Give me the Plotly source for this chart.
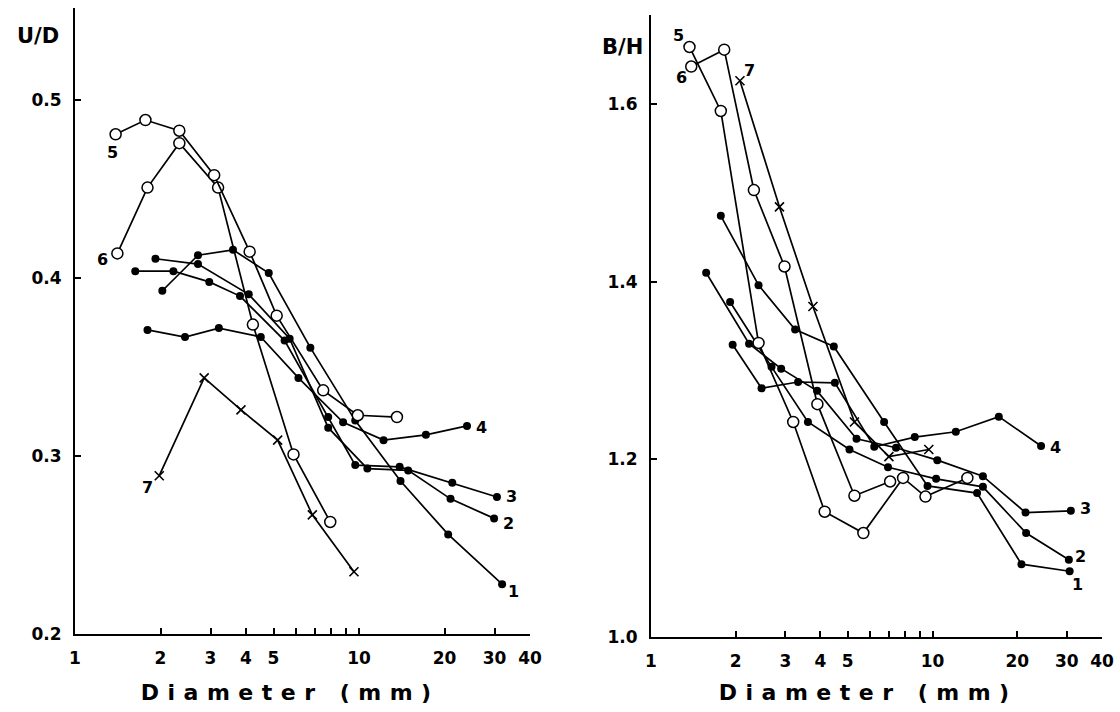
import math
import plotly.graph_objects as go

# ---------------- data: left panel (U/D) ----------------
ud1_x = [2.03, 2.71, 3.6, 4.81, 6.74, 9.7, 14.0, 20.6, 31.9]
ud1_y = [0.393, 0.413, 0.416, 0.403, 0.361, 0.320, 0.286, 0.256, 0.228]
ud2_x = [1.92, 2.71, 4.09, 5.7, 7.79, 10.7, 14.9, 21.0, 29.9]
ud2_y = [0.411, 0.408, 0.391, 0.366, 0.316, 0.293, 0.292, 0.276, 0.265]
ud3_x = [1.63, 2.22, 2.97, 3.81, 5.47, 7.79, 9.7, 13.9, 21.3, 30.6]
ud3_y = [0.404, 0.404, 0.398, 0.390, 0.365, 0.322, 0.295, 0.294, 0.285, 0.277]
ud4_x = [1.80, 2.44, 3.21, 4.51, 6.12, 8.79, 12.2, 17.2, 24.0]
ud4_y = [0.371, 0.367, 0.372, 0.367, 0.344, 0.319, 0.309, 0.312, 0.317]
ud5_x = [1.39, 1.77, 2.33, 3.09, 4.12, 5.13, 7.48, 9.9, 13.6]
ud5_y = [0.481, 0.489, 0.483, 0.458, 0.415, 0.379, 0.337, 0.323, 0.322]
ud6_x = [1.41, 1.80, 2.33, 3.19, 4.23, 5.88, 7.92]
ud6_y = [0.414, 0.451, 0.476, 0.451, 0.374, 0.301, 0.263]
ud7_x = [1.98, 2.85, 3.84, 5.17, 6.85, 9.6]
ud7_y = [0.289, 0.344, 0.326, 0.309, 0.267, 0.235]

# ---------------- data: right panel (B/H) ----------------
bh1_x = [1.77, 2.41, 3.25, 4.46, 6.73, 9.6, 14.4, 20.7, 30.7]
bh1_y = [1.474, 1.396, 1.346, 1.327, 1.242, 1.170, 1.162, 1.082, 1.074]
bh2_x = [1.91, 2.68, 3.61, 5.07, 6.95, 10.3, 15.1, 21.5, 30.5]
bh2_y = [1.377, 1.304, 1.242, 1.211, 1.191, 1.178, 1.169, 1.117, 1.087]
bh3_x = [1.57, 2.23, 2.9, 3.89, 5.37, 7.42, 10.4, 15.1, 21.4, 31.0]
bh3_y = [1.410, 1.330, 1.302, 1.277, 1.223, 1.213, 1.199, 1.181, 1.140, 1.142]
bh4_x = [1.95, 2.47, 3.33, 4.5, 6.21, 8.65, 12.1, 17.2, 24.3]
bh4_y = [1.329, 1.280, 1.287, 1.286, 1.214, 1.225, 1.231, 1.248, 1.215]
bh5_x = [1.37, 1.77, 2.41, 3.2, 4.14, 5.68, 7.86, 9.44, 13.3]
bh5_y = [1.664, 1.592, 1.331, 1.242, 1.141, 1.117, 1.179, 1.158, 1.179]
bh6_x = [1.39, 1.82, 2.32, 2.98, 3.9, 5.28, 7.07]
bh6_y = [1.642, 1.661, 1.503, 1.417, 1.262, 1.159, 1.175]
bh7_x = [2.07, 2.86, 3.76, 5.28, 7.0, 9.7]
bh7_y = [1.626, 1.484, 1.372, 1.242, 1.203, 1.211]

x_tickvals = [1, 2, 3, 4, 5, 6, 7, 8, 9, 10, 20, 30, 40]
x_ticktext = ["1", "2", "3", "4", "5", "", "", "", "", "10", "20", "30", "40"]
ud_ticks = [0.2, 0.3, 0.4, 0.5]
ud_ticktext = ["0.2", "0.3", "0.4", "0.5"]
bh_ticks = [1.0, 1.2, 1.4, 1.6]
bh_ticktext = ["1.0", "1.2", "1.4", "1.6"]

FONT = "DejaVu Sans"
W, H = 1120, 712

fig = go.Figure()

filled = dict(symbol="circle", size=8, color="black")
opencirc = dict(symbol="circle", size=11, color="white", line=dict(color="black", width=1.5))
cross = dict(symbol="x-thin", size=9, color="black", line=dict(color="black", width=1.6))
line = dict(color="black", width=1.7)


def add(xs, ys, marker, xa, ya):
    fig.add_trace(go.Scatter(x=xs, y=ys, mode="lines+markers", marker=marker, line=line,
                             xaxis=xa, yaxis=ya, hoverinfo="skip"))


for xs, ys in [(ud1_x, ud1_y), (ud2_x, ud2_y), (ud3_x, ud3_y), (ud4_x, ud4_y)]:
    add(xs, ys, filled, "x", "y")
add(ud7_x, ud7_y, cross, "x", "y")
add(ud6_x, ud6_y, opencirc, "x", "y")
add(ud5_x, ud5_y, opencirc, "x", "y")

for xs, ys in [(bh1_x, bh1_y), (bh2_x, bh2_y), (bh3_x, bh3_y), (bh4_x, bh4_y)]:
    add(xs, ys, filled, "x2", "y2")
add(bh7_x, bh7_y, cross, "x2", "y2")
add(bh6_x, bh6_y, opencirc, "x2", "y2")
add(bh5_x, bh5_y, opencirc, "x2", "y2")

tickfont = dict(family=FONT, size=17, color="black", weight="bold")


def xaxis(dom, anchor):
    return dict(type="log", range=[0, math.log10(40)], domain=dom, anchor=anchor,
                showline=True, linecolor="black", linewidth=2, ticks="inside", ticklen=6,
                tickwidth=2, tickcolor="black", tickvals=x_tickvals, ticktext=x_ticktext,
                tickfont=tickfont, showgrid=False, zeroline=False, ticklabelstandoff=8,
                automargin=False)


def yaxis(rng, dom, anchor, tv, tt):
    return dict(range=rng, domain=dom, anchor=anchor, showline=True, linecolor="black",
                linewidth=2, ticks="inside", ticklen=6, tickwidth=2, tickcolor="black",
                tickvals=tv, ticktext=tt, tickfont=tickfont, showgrid=False,
                zeroline=False, ticklabelstandoff=8, automargin=False)


fig.update_layout(
    width=W, height=H, margin=dict(l=0, r=0, t=0, b=0, pad=0, autoexpand=False),
    paper_bgcolor="white", plot_bgcolor="white", showlegend=False,
    xaxis=xaxis([75 / W, 530 / W], "y"),
    yaxis=yaxis([0.2, 0.552], [(H - 634) / H, (H - 8) / H], "x", ud_ticks, ud_ticktext),
    xaxis2=xaxis([651 / W, 1102 / W], "y2"),
    yaxis2=yaxis([1.0, 1.70], [(H - 637) / H, (H - 15) / H], "x2", bh_ticks, bh_ticktext),
)

lab = dict(family=FONT, size=16, color="black", weight="bold")


def label(text, xs, ys, idx, xa, ya, dx, dy):
    fig.add_annotation(text=text, x=math.log10(xs[idx]), y=ys[idx], xref=xa, yref=ya,
                       xshift=dx, yshift=dy, showarrow=False, font=lab,
                       xanchor="center", yanchor="middle")


label("5", ud5_x, ud5_y, 0, "x", "y", -3, -18)
label("6", ud6_x, ud6_y, 0, "x", "y", -15, -6)
label("7", ud7_x, ud7_y, 0, "x", "y", -12, -12)
label("4", ud4_x, ud4_y, -1, "x", "y", 15, -2)
label("3", ud3_x, ud3_y, -1, "x", "y", 15, 1)
label("2", ud2_x, ud2_y, -1, "x", "y", 14, -5)
label("1", ud1_x, ud1_y, -1, "x", "y", 11, -7)

label("5", bh5_x, bh5_y, 0, "x2", "y2", -11, 11)
label("6", bh6_x, bh6_y, 0, "x2", "y2", -10, -11)
label("7", bh7_x, bh7_y, 0, "x2", "y2", 10, 10)
label("4", bh4_x, bh4_y, -1, "x2", "y2", 14, -2)
label("3", bh3_x, bh3_y, -1, "x2", "y2", 15, 2)
label("2", bh2_x, bh2_y, -1, "x2", "y2", 12, 3)
label("1", bh1_x, bh1_y, -1, "x2", "y2", 8, -13)

title_font = dict(family=FONT, size=21, color="black", weight="bold")
fig.add_annotation(text="U/D", x=38 / W, y=(H - 36) / H, xref="paper", yref="paper",
                   showarrow=False, font=title_font, xanchor="center", yanchor="middle")
fig.add_annotation(text="B/H", x=622 / W, y=(H - 47) / H, xref="paper", yref="paper",
                   showarrow=False, font=title_font, xanchor="center", yanchor="middle")
xt_font = dict(family=FONT, size=22, color="black", weight="bold")
fig.add_annotation(text="Diameter (mm)", x=290 / W, y=(H - 692) / H, xref="paper", yref="paper",
                   showarrow=False, font=xt_font, xanchor="center", yanchor="middle")
fig.add_annotation(text="Diameter (mm)", x=868 / W, y=(H - 692) / H, xref="paper", yref="paper",
                   showarrow=False, font=xt_font, xanchor="center", yanchor="middle")

js = """
document.body.style.margin = '0';
document.body.style.padding = '0';
function fixSpacing(){
  var gd = document.getElementById('{plot_id}');
  if(!gd) return;
  gd.querySelectorAll('text').forEach(function(t){
    if(t.textContent === 'Diameter (mm)'){ t.style.letterSpacing = '8.5px'; }
  });
}
fixSpacing(); setTimeout(fixSpacing, 50); setTimeout(fixSpacing, 300);
"""

fig.write_html("out.html", post_script=js, config={"displayModeBar": False})
